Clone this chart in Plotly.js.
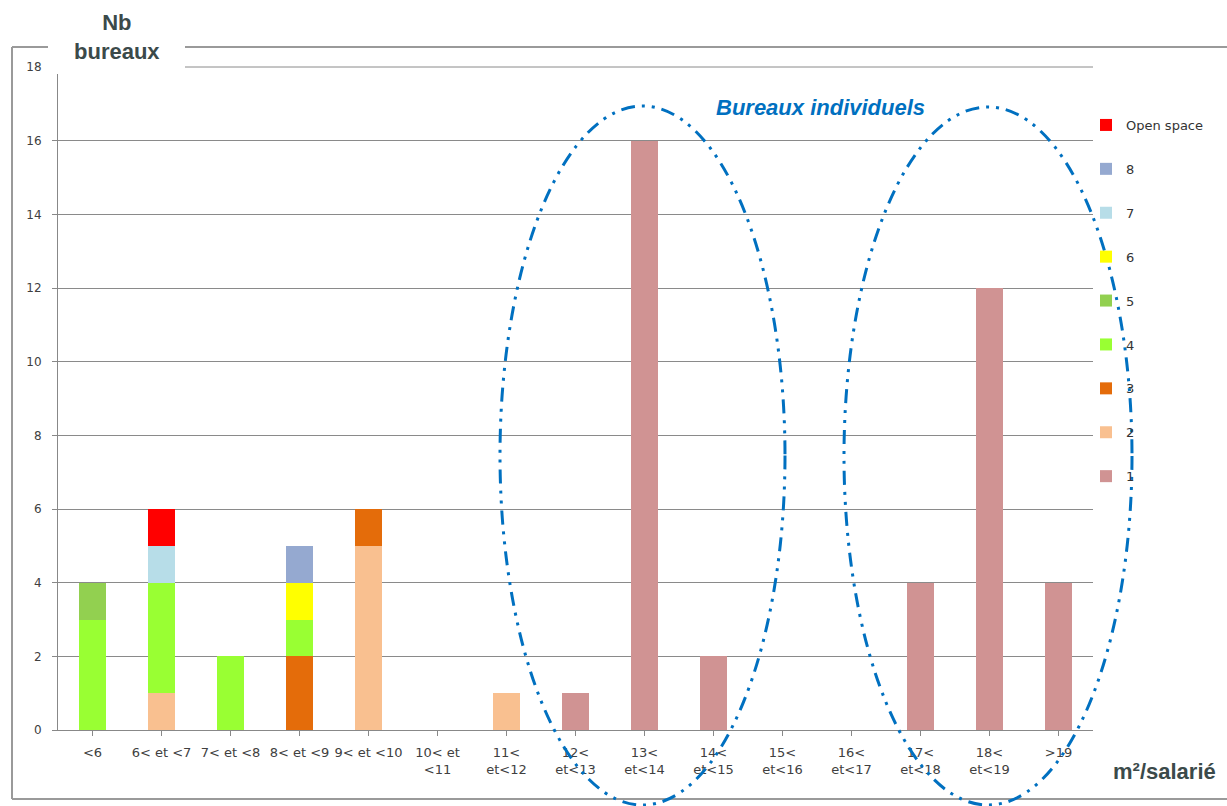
<!DOCTYPE html>
<html>
<head>
<meta charset="utf-8">
<script src="https://cdn.plot.ly/plotly-3.0.1.min.js"></script>
<style>html,body{margin:0;padding:0;background:#fff;}#chart{width:1227px;height:806px;}</style>
</head>
<body>
<div id="chart"></div>
<script>
const categories = ["<6", "6< et <7", "7< et <8", "8< et <9", "9< et <10", "10< et<br><11", "11<<br>et<12", "12<<br>et<13", "13<<br>et<14", "14<<br>et<15", "15<<br>et<16", "16<<br>et<17", "17<<br>et<18", "18<<br>et<19", ">19"];
const s1 = [0, 0, 0, 0, 0, 0, 0, 1, 16, 2, 0, 0, 4, 12, 4];
const s2 = [0, 1, 0, 0, 5, 0, 1, 0, 0, 0, 0, 0, 0, 0, 0];
const s3 = [0, 0, 0, 2, 1, 0, 0, 0, 0, 0, 0, 0, 0, 0, 0];
const s4 = [3, 3, 2, 1, 0, 0, 0, 0, 0, 0, 0, 0, 0, 0, 0];
const s5 = [1, 0, 0, 0, 0, 0, 0, 0, 0, 0, 0, 0, 0, 0, 0];
const s6 = [0, 0, 0, 1, 0, 0, 0, 0, 0, 0, 0, 0, 0, 0, 0];
const s7 = [0, 1, 0, 0, 0, 0, 0, 0, 0, 0, 0, 0, 0, 0, 0];
const s8 = [0, 0, 0, 1, 0, 0, 0, 0, 0, 0, 0, 0, 0, 0, 0];
const openSpace = [0, 1, 0, 0, 0, 0, 0, 0, 0, 0, 0, 0, 0, 0, 0];
const seriesNames = ["1", "2", "3", "4", "5", "6", "7", "8", "Open space"];
const seriesValues = [s1, s2, s3, s4, s5, s6, s7, s8, openSpace];
const seriesColors = ["#D09393", "#F9C090", "#E46C0A", "#99FF33", "#92D050", "#FFFF00", "#B7DDE8", "#95A9D0", "#FF0000"];
const yTicks = [0, 2, 4, 6, 8, 10, 12, 14, 16, 18];

const traces = seriesNames.map((n, i) => ({
  type: "bar", name: n, x: categories.map((c, k) => k), y: seriesValues[i],
  marker: {color: seriesColors[i], line: {width: 0}},
  legendgroup: "g" + i, legendrank: 100 - i, hoverinfo: "y+name"
}));

const px = x => (x - 58) / 1035;
const py = y => (730 - y) / 663;
const frameColor = "#9a9a9a";
const blue = "#0070C0";
const dashPat = "14px,7px,3px,7px,3px,7px";

const layout = {
  width: 1227, height: 806,
  margin: {l: 58, r: 134, t: 67, b: 76},
  paper_bgcolor: "#fff", plot_bgcolor: "#fff",
  barmode: "stack", bargap: 0.6,
  font: {family: "DejaVu Sans, sans-serif", size: 12, color: "#404040"},
  xaxis: {
    tickmode: "array", tickvals: categories.map((c, k) => k), ticktext: categories,
    range: [-0.5, 14.5], showgrid: false, showline: true, linecolor: "#888", linewidth: 1,
    ticks: "outside", ticklen: 5, tickcolor: "#888", tickson: "boundaries",
    tickfont: {size: 13, color: "#404040"}, zeroline: false, ticklabelstandoff: 5
  },
  yaxis: {
    range: [0, 18], tickmode: "array", tickvals: yTicks, showgrid: true, gridcolor: "#8a8a8a", gridwidth: 1,
    showline: true, linecolor: "#888", ticks: "outside", ticklen: 5, tickcolor: "#888",
    tickfont: {size: 12, color: "#404040"}, zeroline: false, ticklabelstandoff: 8
  },
  legend: {
    x: px(1086), y: py(110), xanchor: "left", yanchor: "top",
    traceorder: "grouped", tracegroupgap: 24,
    font: {size: 13, color: "#333"}, bgcolor: "rgba(0,0,0,0)", itemwidth: 30
  },
  showlegend: true,
  shapes: [
    {type: "line", xref: "paper", yref: "paper", x0: 0, x1: 1, y0: 1, y1: 1, line: {color: "#8a8a8a", width: 1}, layer: "below"},
    {type: "rect", xref: "paper", yref: "paper", x0: px(48), x1: px(185), y0: py(74), y1: py(40), fillcolor: "#fff", line: {width: 0}, layer: "above"},
    {type: "line", xref: "paper", yref: "paper", x0: px(12), x1: px(48), y0: py(47), y1: py(47), line: {color: frameColor, width: 2}},
    {type: "line", xref: "paper", yref: "paper", x0: px(185), x1: px(1240), y0: py(47), y1: py(47), line: {color: frameColor, width: 2}},
    {type: "line", xref: "paper", yref: "paper", x0: px(12), x1: px(12), y0: py(47), y1: py(799), line: {color: frameColor, width: 2}},
    {type: "line", xref: "paper", yref: "paper", x0: px(12), x1: px(1240), y0: py(799), y1: py(799), line: {color: frameColor, width: 2}},
    {type: "circle", xref: "paper", yref: "paper", x0: px(500), x1: px(785), y0: py(106), y1: py(805), line: {color: blue, width: 3, dash: dashPat}, layer: "above"},
    {type: "circle", xref: "paper", yref: "paper", x0: px(844), x1: px(1132), y0: py(107), y1: py(805), line: {color: blue, width: 3, dash: dashPat}, layer: "above"}
  ],
  annotations: [
    {xref: "paper", yref: "paper", x: px(117), y: py(37), text: "<b>Nb<br>bureaux</b>", showarrow: false, font: {family: "Liberation Sans, Arial, sans-serif", size: 22, color: "#3b4a4a"}, xanchor: "center", yanchor: "middle"},
    {xref: "paper", yref: "paper", x: px(1164), y: py(771), text: "<b>m²/salarié</b>", showarrow: false, font: {family: "Liberation Sans, Arial, sans-serif", size: 22, color: "#3b4a4a"}, xanchor: "center", yanchor: "middle"},
    {xref: "paper", yref: "paper", x: px(820), y: py(107), text: "<b><i>Bureaux individuels</i></b>", showarrow: false, font: {family: "Liberation Sans, Arial, sans-serif", size: 22, color: blue}, xanchor: "center", yanchor: "middle"}
  ]
};

Plotly.newPlot("chart", traces, layout, {displayModeBar: false, staticPlot: true});
</script>
</body>
</html>
